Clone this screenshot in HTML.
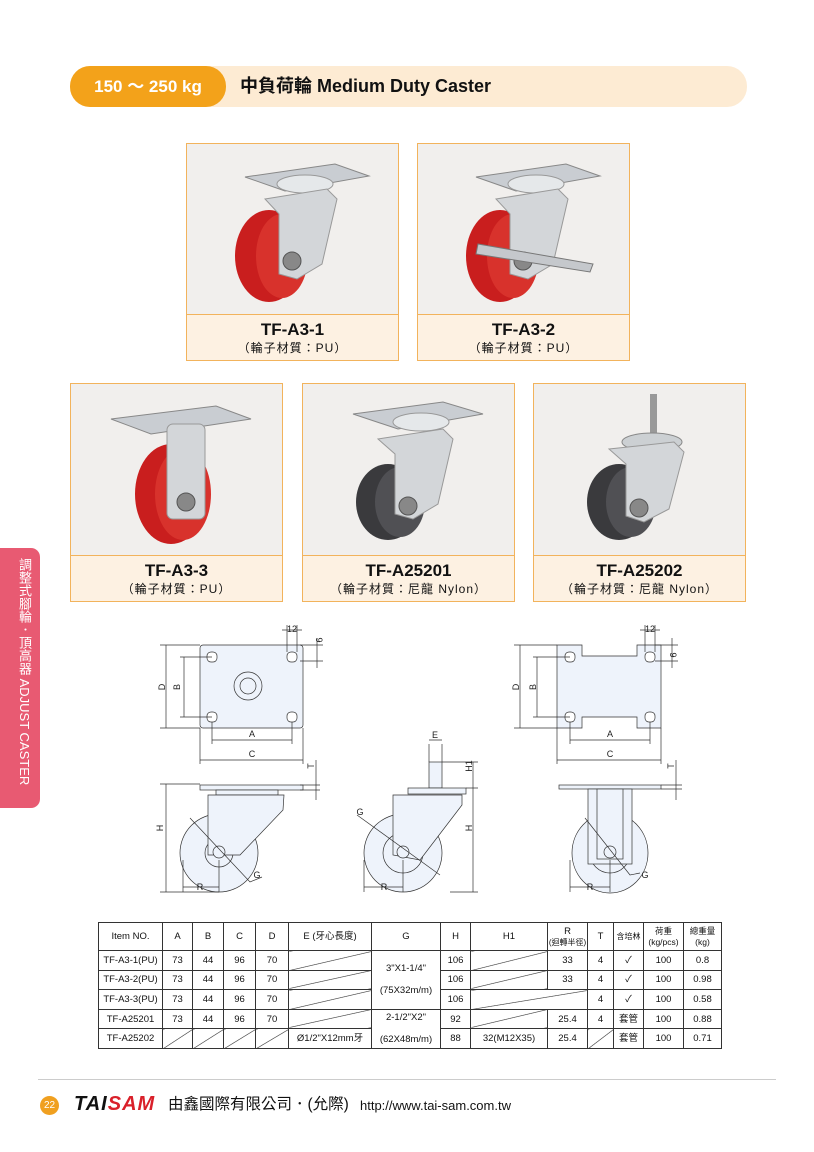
<!DOCTYPE html>
<html><head><meta charset="utf-8"><style>
*{margin:0;padding:0;box-sizing:border-box}
body{width:814px;height:1152px;background:#fff;position:relative;overflow:hidden;font-family:"Liberation Sans","Noto Sans CJK TC",sans-serif;color:#111}
.abs{position:absolute}
.card{position:absolute;border:1px solid #f2b35c;background:#f1efed}
.card .lab{position:absolute;left:0;right:0;bottom:0;height:46px;background:#fdf1e2;border-top:1px solid #f2b35c;text-align:center}
.card .lab b{display:block;font-size:17px;font-weight:bold;margin-top:5px;line-height:20px}
.card .lab span{display:block;font-size:12px;line-height:16px;letter-spacing:1px}
.card svg{position:absolute;left:0;top:0}
table{border-collapse:collapse;position:absolute;left:98px;top:922px;font-size:9.5px;table-layout:fixed}
td{border:1px solid #333;text-align:center;height:19.6px;padding:0;position:relative;line-height:11px}
.sl{background:linear-gradient(to bottom right,transparent calc(50% - .6px),#333 50%,transparent calc(50% + .6px))}
</style></head><body>
<div class="abs" style="left:70px;top:66px;width:677px;height:41px;border-radius:20px;background:#fdebd3"></div>
<div class="abs" style="left:70px;top:66px;width:156px;height:41px;border-radius:20px;background:#f3a21a;color:#fff;font-size:17px;font-weight:bold;line-height:41px;text-align:center">150 ～ 250 kg</div>
<div class="abs" style="left:240px;top:66px;line-height:41px;font-size:18px;font-weight:bold">中負荷輪 <span style="font-family:'Liberation Sans Narrow','Liberation Sans',sans-serif">Medium Duty Caster</span></div>

<div class="card" style="left:186px;top:143px;width:213px;height:218px">
<svg width="212" height="172"><polygon points="58,33 148,20 182,32 98,47" fill="#c9cdd2" stroke="#888"/><ellipse cx="118" cy="40" rx="28" ry="9" fill="#e5e8ea" stroke="#999"/><ellipse cx="82" cy="112" rx="34" ry="46" fill="#c91e1e"/><ellipse cx="95" cy="112" rx="26" ry="42" fill="#d8322c"/><polygon points="78,55 140,45 150,55 135,120 110,135 92,130 92,70" fill="#d3d6d9" stroke="#999"/><circle cx="105" cy="117" r="9" fill="#888" stroke="#555"/></svg>
<div class="lab"><b>TF-A3-1</b><span>（輪子材質：PU）</span></div></div>
<div class="card" style="left:417px;top:143px;width:213px;height:218px">
<svg width="212" height="172"><polygon points="58,33 148,20 182,32 98,47" fill="#c9cdd2" stroke="#888"/><ellipse cx="118" cy="40" rx="28" ry="9" fill="#e5e8ea" stroke="#999"/><ellipse cx="82" cy="112" rx="34" ry="46" fill="#c91e1e"/><ellipse cx="95" cy="112" rx="26" ry="42" fill="#d8322c"/><polygon points="78,55 140,45 150,55 135,120 110,135 92,130 92,70" fill="#d3d6d9" stroke="#999"/><circle cx="105" cy="117" r="9" fill="#888" stroke="#555"/><polygon points="60,100 175,120 172,128 58,110" fill="#c5c8cc" stroke="#777"/></svg>
<div class="lab"><b>TF-A3-2</b><span>（輪子材質：PU）</span></div></div>
<div class="card" style="left:70px;top:383px;width:213px;height:219px">
<svg width="212" height="172"><polygon points="40,35 145,22 180,35 80,50" fill="#c9cdd2" stroke="#888"/><ellipse cx="100" cy="110" rx="36" ry="50" fill="#c91e1e"/><ellipse cx="112" cy="110" rx="28" ry="46" fill="#d8322c"/><rect x="96" y="40" width="38" height="95" rx="6" fill="#d3d6d9" stroke="#999"/><circle cx="115" cy="118" r="9" fill="#888" stroke="#555"/></svg>
<div class="lab"><b>TF-A3-3</b><span>（輪子材質：PU）</span></div></div>
<div class="card" style="left:302px;top:383px;width:213px;height:219px">
<svg width="212" height="172"><polygon points="50,30 140,18 180,30 95,45" fill="#c9cdd2" stroke="#888"/><ellipse cx="118" cy="38" rx="28" ry="9" fill="#e5e8ea" stroke="#999"/><ellipse cx="85" cy="118" rx="32" ry="38" fill="#3a3a3d"/><ellipse cx="97" cy="118" rx="25" ry="35" fill="#505054"/><polygon points="75,55 140,45 150,55 135,120 110,135 92,130 92,70" fill="#d3d6d9" stroke="#999"/><circle cx="105" cy="122" r="9" fill="#888" stroke="#555"/></svg>
<div class="lab"><b>TF-A25201</b><span>（輪子材質：尼龍 Nylon）</span></div></div>
<div class="card" style="left:533px;top:383px;width:213px;height:219px">
<svg width="212" height="172"><rect x="116" y="10" width="7" height="45" fill="#999"/><ellipse cx="118" cy="58" rx="30" ry="9" fill="#ccd0d3" stroke="#888"/><ellipse cx="85" cy="118" rx="32" ry="38" fill="#3a3a3d"/><ellipse cx="97" cy="118" rx="25" ry="35" fill="#505054"/><polygon points="75,65 140,58 150,68 135,125 110,138 92,132 92,80" fill="#d3d6d9" stroke="#999"/><circle cx="105" cy="124" r="9" fill="#888" stroke="#555"/></svg>
<div class="lab"><b>TF-A25202</b><span>（輪子材質：尼龍 Nylon）</span></div></div>

<div class="abs" style="left:0;top:548px;width:40px;height:260px;background:#e85a72;border-radius:0 9px 9px 0"></div>
<div class="abs" style="left:14px;top:558px;writing-mode:vertical-rl;color:#fff;font-size:13px;line-height:20px;white-space:nowrap">調整式腳輪．頂高器 ADJUST CASTER</div>

<svg class="abs" style="left:0;top:0" width="814" height="920" font-size="9" font-family="Liberation Sans,sans-serif" stroke="#333" stroke-width="0.7">
<g fill="#eef3fb">
<rect x="200" y="645" width="103" height="83" rx="3"/>
<path d="M557 645 H582 V656 H637 V645 H661 V728 H637 V717 H582 V728 H557 Z"/>
<circle cx="248" cy="686" r="14"/><circle cx="248" cy="686" r="8"/>
<rect x="200" y="785" width="103" height="5"/><rect x="216" y="790" width="62" height="5"/>
<circle cx="219" cy="853" r="39"/><circle cx="219" cy="853" r="14"/>
<polygon points="208,795 284,795 283,810 240,855 208,855"/>
<circle cx="219" cy="852" r="6"/>
<rect x="429" y="762" width="13" height="26"/><rect x="408" y="788" width="58" height="6"/>
<circle cx="403" cy="853" r="39"/><circle cx="403" cy="853" r="20"/>
<polygon points="393,795 462,795 462,805 420,860 393,855"/><circle cx="403" cy="852" r="6"/>
<rect x="559" y="785" width="102" height="4"/>
<ellipse cx="610" cy="853" rx="38" ry="40"/><circle cx="610" cy="853" r="20"/>
<rect x="588" y="789" width="44" height="75"/><rect x="597" y="789" width="26" height="70"/><circle cx="610" cy="852" r="6"/>
</g>
<g fill="#fff"><rect x="207" y="652" width="10" height="10" rx="4"/><rect x="287" y="652" width="10" height="10" rx="4"/><rect x="207" y="712" width="10" height="10" rx="4"/><rect x="287" y="712" width="10" height="10" rx="4"/>
<rect x="565" y="652" width="10" height="10" rx="4"/><rect x="645" y="652" width="10" height="10" rx="4"/><rect x="565" y="712" width="10" height="10" rx="4"/><rect x="645" y="712" width="10" height="10" rx="4"/></g>
<g fill="none">
<path d="M166 645V728M160 645H200M160 728H200M184 657V717M180 657H212M180 717H212"/>
<path d="M212 722V744M292 722V744M212 740H292M200 728V764M303 728V764M200 760H303"/>
<path d="M287 625V652M297 625V652M282 630H302M300 645H323M300 661H323M317 638V668"/>
<path d="M520 645V728M514 645H557M514 728H557M537 657V717M533 657H570M533 717H570"/>
<path d="M570 722V744M650 722V744M570 740H650M557 728V764M661 728V764M557 760H661"/>
<path d="M645 625V652M655 625V652M640 630H660M655 645H678M655 661H678M672 638V668"/>
<path d="M166 784V892M160 784H200M160 892H219M183 860V892M219 860V892M183 887H219"/>
<path d="M300 785H320M300 790H320M316 760V800M190 818L250 882L262 877"/>
<path d="M429 744V762M442 744V762M429 740H442M442 762H478M466 788H478M473 762V892M450 892H478"/>
<path d="M364 860V892M403 860V892M364 887H403M357 815L440 875"/>
<path d="M570 860V892M610 860V892M570 887H610M585 818L630 875L640 873"/>
<path d="M661 785H682M661 789H682M676 760V800"/>
</g>
<g stroke="none" fill="#222" text-anchor="middle">
<text x="252" y="737">A</text><text x="252" y="757">C</text><text x="610" y="737">A</text><text x="610" y="757">C</text>
<text x="292" y="632">12</text><text x="650" y="632">12</text>
<text x="200" y="890">R</text><text x="384" y="890">R</text><text x="590" y="890">R</text>
<text x="257" y="878">G</text><text x="360" y="815">G</text><text x="645" y="878">G</text>
<text x="435" y="738">E</text>
<text transform="translate(165,687) rotate(-90)">D</text><text transform="translate(180,687) rotate(-90)">B</text>
<text transform="translate(519,687) rotate(-90)">D</text><text transform="translate(536,687) rotate(-90)">B</text>
<text transform="translate(316,640) rotate(90)">9</text><text transform="translate(670,655) rotate(90)">9</text>
<text transform="translate(163,828) rotate(-90)">H</text><text transform="translate(472,828) rotate(-90)">H</text>
<text transform="translate(472,766) rotate(-90)">H1</text>
<text transform="translate(314,766) rotate(-90)">T</text><text transform="translate(674,766) rotate(-90)">T</text>
</g>
</svg>

<table>
<colgroup><col style="width:64px"><col style="width:30px"><col style="width:31px"><col style="width:32px"><col style="width:33px"><col style="width:83px"><col style="width:69px"><col style="width:30px"><col style="width:77px"><col style="width:40px"><col style="width:26px"><col style="width:30px"><col style="width:40px"><col style="width:38px"></colgroup>
<tr style="height:28px"><td>Item NO.</td><td>A</td><td>B</td><td>C</td><td>D</td><td>E (牙心長度)</td><td>G</td><td>H</td><td>H1</td><td>R<br><span style="font-size:8px">(迴轉半徑)</span></td><td>T</td><td style="font-size:8px">含培林</td><td style="font-size:8.5px">荷重<br>(kg/pcs)</td><td style="font-size:8.5px">總重量<br>(kg)</td></tr>
<tr><td>TF-A3-1(PU)</td><td>73</td><td>44</td><td>96</td><td>70</td><td class="sl"></td><td rowspan="3">3"X1-1/4"<br><br>(75X32m/m)</td><td>106</td><td class="sl"></td><td>33</td><td>4</td><td>✓</td><td>100</td><td>0.8</td></tr>
<tr><td>TF-A3-2(PU)</td><td>73</td><td>44</td><td>96</td><td>70</td><td class="sl"></td><td>106</td><td class="sl"></td><td>33</td><td>4</td><td>✓</td><td>100</td><td>0.98</td></tr>
<tr><td>TF-A3-3(PU)</td><td>73</td><td>44</td><td>96</td><td>70</td><td class="sl"></td><td>106</td><td class="sl" colspan="2"></td><td>4</td><td>✓</td><td>100</td><td>0.58</td></tr>
<tr><td>TF-A25201</td><td>73</td><td>44</td><td>96</td><td>70</td><td class="sl"></td><td rowspan="2">2-1/2"X2"<br><br>(62X48m/m)</td><td>92</td><td class="sl"></td><td>25.4</td><td>4</td><td>套管</td><td>100</td><td>0.88</td></tr>
<tr><td>TF-A25202</td><td class="sl"></td><td class="sl"></td><td class="sl"></td><td class="sl"></td><td>Ø1/2"X12mm牙</td><td>88</td><td>32(M12X35)</td><td>25.4</td><td class="sl"></td><td>套管</td><td>100</td><td>0.71</td></tr>
</table>

<div class="abs" style="left:38px;top:1079px;width:738px;height:1px;background:#ccc"></div>
<div class="abs" style="left:40px;top:1096px;width:19px;height:19px;border-radius:50%;background:#f0a020;color:#fff;font-size:10px;line-height:19px;text-align:center">22</div>
<div class="abs" style="left:74px;top:1093px;font-size:20px;font-weight:bold;font-style:italic;letter-spacing:1px;line-height:22px"><span style="color:#111">TAI</span><span style="color:#d9202a">SAM</span></div>
<div class="abs" style="left:168px;top:1095px;font-size:15.5px;line-height:20px;white-space:nowrap">由鑫國際有限公司．(允際)</div>
<div class="abs" style="left:360px;top:1098px;font-size:13px;line-height:16px">http://www.tai-sam.com.tw</div>
</body></html>
